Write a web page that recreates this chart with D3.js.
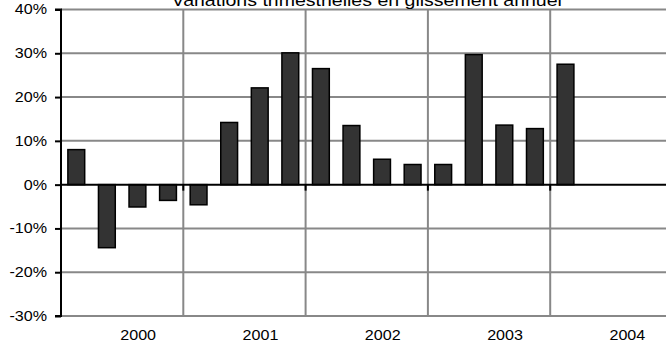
<!DOCTYPE html>
<html><head><meta charset="utf-8">
<script src="https://cdn.jsdelivr.net/npm/d3@7"></script>
<style>body{margin:0;background:#fff;overflow:hidden}svg{display:block}text{font-family:"Liberation Sans",Arial,sans-serif}</style>
</head><body><svg id="c" width="666" height="347"></svg>
<script>
const title = "Variations trimestrielles en glissement annuel";
const years = ["2000","2001","2002","2003","2004"];
const quarters = ["T1","T2","T3","T4"];
const values = [8.0,-14.4,-5.1,-3.6, -4.6,14.2,22.1,30.1, 26.5,13.5,5.8,4.6, 4.6,29.7,13.6,12.8, 27.5,null,null,null];
const yTicks = [-30,-20,-10,0,10,20,30,40];

const svg = d3.select("#c");
const L = 61, R = 672.5, T = 9.5, B = 316;
const SX = 1.15;
const cats = [];
years.forEach(y => quarters.forEach(q => cats.push(y + q)));
const x = d3.scaleBand().domain(cats).range([L, R]).paddingInner(0.45).paddingOuter(0.225);
const xy = d3.scaleBand().domain(years).range([L, R]);
const y = d3.scaleLinear().domain([-30, 40]).range([B, T]);

// horizontal gridlines
svg.append("g").selectAll("line").data(yTicks.filter(d => d !== 0)).join("line")
  .attr("x1", L).attr("x2", R).attr("y1", d => y(d)).attr("y2", d => y(d))
  .attr("stroke", "#888").attr("stroke-width", 2);
// vertical gridlines at year boundaries
svg.append("g").selectAll("line").data(years.slice(1)).join("line")
  .attr("x1", d => xy(d)).attr("x2", d => xy(d)).attr("y1", T).attr("y2", B)
  .attr("stroke", "#888").attr("stroke-width", 2);

// bars
svg.append("g").selectAll("rect").data(cats.map((c, i) => ({c, v: values[i]})).filter(d => d.v != null)).join("rect")
  .attr("x", d => x(d.c)).attr("width", x.bandwidth())
  .attr("y", d => y(Math.max(0, d.v))).attr("height", d => Math.abs(y(d.v) - y(0)))
  .attr("fill", "#333").attr("stroke", "#000").attr("stroke-width", 1.5);

// zero axis
svg.append("line").attr("x1", L).attr("x2", R).attr("y1", y(0)).attr("y2", y(0))
  .attr("stroke", "#000").attr("stroke-width", 2);
svg.append("g").selectAll("line").data(years.slice(1)).join("line")
  .attr("x1", d => xy(d)).attr("x2", d => xy(d)).attr("y1", y(0)).attr("y2", y(0) + 6)
  .attr("stroke", "#000").attr("stroke-width", 2);

// y axis
const ya = d3.axisLeft(y).tickValues(yTicks).tickFormat(d => d + "%").tickSize(6).tickPadding(8);
const gy = svg.append("g").attr("transform", `translate(${L},0)`).call(ya);
gy.select(".domain").attr("stroke", "#000").attr("stroke-width", 2).attr("d", `M-6,${T}H0V${B}H-6`);
gy.selectAll(".tick line").attr("stroke", "#000").attr("stroke-width", 2);
gy.selectAll(".tick text").attr("font-size", 14).attr("fill", "#000")
  .attr("font-family", "'Liberation Sans',Arial,sans-serif")
  .attr("x", null).attr("transform", `translate(-14,0) scale(${SX},1)`);

// year labels
svg.append("g").selectAll("text").data(years).join("text")
  .attr("transform", d => `translate(${xy(d) + xy.bandwidth() / 2 + 16},340) scale(${SX},1)`)
  .attr("text-anchor", "middle").attr("font-size", 14).attr("fill", "#000").text(d => d);

// title
svg.append("text").attr("transform", `translate(${(L + R) / 2},6) scale(${SX},1)`).attr("text-anchor", "middle")
  .attr("font-size", 17).attr("fill", "#000").text(title);
</script></body></html>
